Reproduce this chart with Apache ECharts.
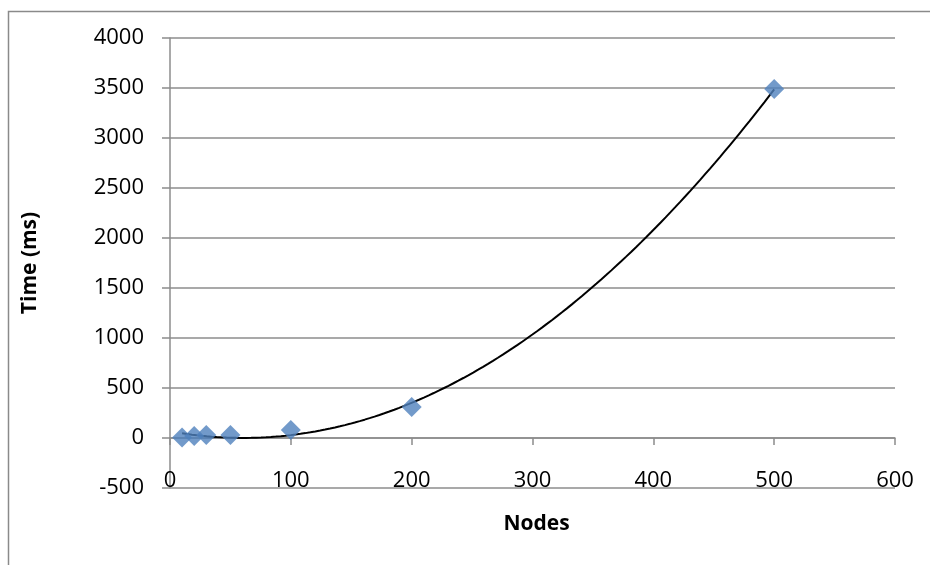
<!DOCTYPE html>
<html>
<head>
<meta charset="utf-8">
<script src="https://cdn.jsdelivr.net/npm/echarts@6/dist/echarts.min.js"></script>
<style>
  html, body { margin: 0; padding: 0; background: #fff; }
  #chart { width: 930px; height: 565px; }
</style>
</head>
<body>
<div id="chart"></div>
<script>
// measured points
const nodes = [10, 20, 30, 50, 100, 200, 500]
const times = [5, 20, 30, 30, 80, 310, 3490]

const xTicks = { min: 0, max: 600, interval: 100 }
const yTicks = { min: -500, max: 4000, interval: 500 }

// 2nd order polynomial trendline (least squares, like the spreadsheet did)
const fitQuadratic = (xs, ys) => {
  const s = [0, 0, 0, 0, 0]
  const t = [0, 0, 0]
  xs.forEach((x, i) => {
    for (let k = 0; k < 5; k++) s[k] += Math.pow(x, k)
    for (let k = 0; k < 3; k++) t[k] += ys[i] * Math.pow(x, k)
  })
  const m = [
    [s[0], s[1], s[2], t[0]],
    [s[1], s[2], s[3], t[1]],
    [s[2], s[3], s[4], t[2]]
  ]
  for (let c = 0; c < 3; c++) {
    for (let r = c + 1; r < 3; r++) {
      const f = m[r][c] / m[c][c]
      for (let k = c; k < 4; k++) m[r][k] -= f * m[c][k]
    }
  }
  const coef = [0, 0, 0]
  for (let r = 2; r >= 0; r--) {
    let v = m[r][3]
    for (let k = r + 1; k < 3; k++) v -= m[r][k] * coef[k]
    coef[r] = v / m[r][r]
  }
  return coef
}

const coef = fitQuadratic(nodes, times)
const trend = []
const x0 = nodes[0], x1 = nodes[nodes.length - 1]
for (let i = 0; i <= 120; i++) {
  const x = x0 + (x1 - x0) * i / 120
  trend.push([x, coef[0] + coef[1] * x + coef[2] * x * x])
}

const font = '"Open Sans", Lato, sans-serif'
const gridColor = '#8c8c8c'

const chart = echarts.init(document.getElementById('chart'))
chart.setOption({
  animation: false,
  textStyle: { fontFamily: font },
  graphic: [{
    type: 'rect',
    shape: { x: 8.5, y: 11.5, width: 1000, height: 1000 },
    style: { fill: 'none', stroke: '#8a8a8a', lineWidth: 1.5 },
    silent: true
  }],
  grid: { left: 170, right: 35, top: 38, bottom: 77, outerBoundsMode: 'none' },
  xAxis: {
    type: 'value',
    ...xTicks,
    name: 'Nodes',
    nameLocation: 'middle',
    nameGap: 26,
    nameTextStyle: { fontFamily: font, fontSize: 21, fontWeight: 'bold', color: '#000', padding: [0, 0, 0, 8] },
    axisLine: { show: true, onZero: true, lineStyle: { color: gridColor, width: 1.5 } },
    axisTick: { show: true, length: 7, lineStyle: { color: gridColor, width: 1.5 } },
    axisLabel: { margin: -18, fontSize: 22, color: '#000', fontFamily: font, formatter: v => String(v) },
    splitLine: { show: false }
  },
  yAxis: {
    type: 'value',
    ...yTicks,
    name: 'Time (ms)',
    nameLocation: 'middle',
    nameGap: 129,
    nameTextStyle: { fontFamily: font, fontSize: 21, fontWeight: 'bold', color: '#000' },
    axisLine: { show: true, onZero: false, lineStyle: { color: gridColor, width: 1.5 } },
    axisTick: { show: true, length: 8, lineStyle: { color: gridColor, width: 1.5 } },
    axisLabel: { margin: 26, fontSize: 22, color: '#000', fontFamily: font, formatter: v => String(v) },
    splitLine: { show: true, lineStyle: { color: gridColor, width: 1.5 } }
  },
  series: [
    {
      type: 'line',
      data: trend,
      showSymbol: false,
      smooth: false,
      lineStyle: { color: '#000', width: 2 },
      z: 3
    },
    {
      type: 'scatter',
      data: nodes.map((x, i) => [x, times[i]]),
      symbol: 'diamond',
      symbolSize: 20,
      itemStyle: { color: '#4f81bd' },
      z: 4
    }
  ]
})
</script>
</body>
</html>
